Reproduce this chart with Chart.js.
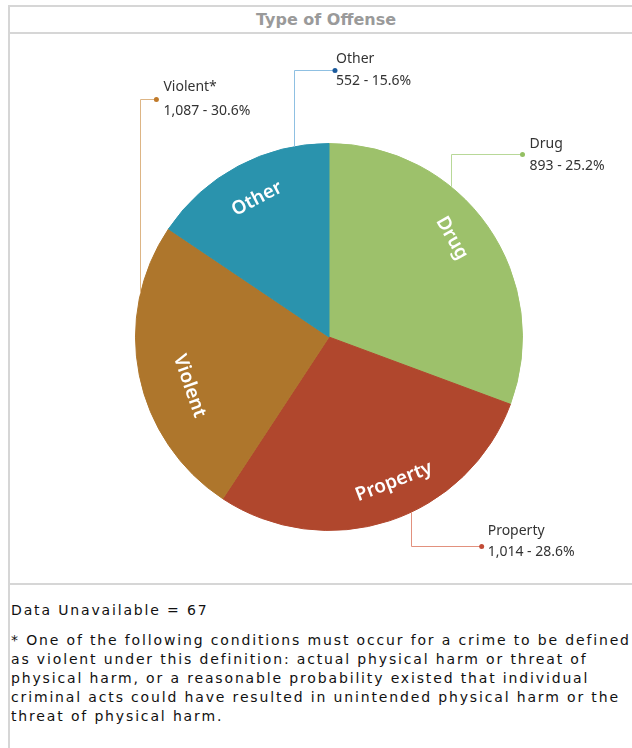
<!DOCTYPE html>
<html>
<head>
<meta charset="utf-8">
<script src="https://cdn.jsdelivr.net/npm/chart.js@4.4.1/dist/chart.umd.min.js"></script>
<style>
  html, body { margin: 0; padding: 0; background: #fff; overflow: hidden; }
  #box { position: absolute; left: 8px; top: 5px; width: 640px; height: 800px;
         border-left: 2px solid #d6d6d6; }
  #title { position: absolute; left: 0; top: 0; width: 632px; height: 25px;
           border-top: 2px solid #d6d6d6; border-bottom: 2px solid #d6d6d6;
           font: bold 16px "DejaVu Sans", Verdana, sans-serif; color: #9a9a9a;
           text-align: center; line-height: 26px; }
  #wrap { position: absolute; left: 0; top: 29px; width: 622px; height: 549px; }
  #sep { position: absolute; left: 0; top: 578px; width: 640px; border-top: 2px solid #d6d6d6; }
  #notes { position: absolute; left: 1px; top: 596px; font: 14px "DejaVu Sans", Verdana, sans-serif;
           color: #111; white-space: nowrap; line-height: 19px; letter-spacing: 1.85px; }
  #notes p { margin: 0 0 11px 0; }
</style>
</head>
<body>
<div id="box">
  <div id="title">Type of Offense</div>
  <div id="wrap"><canvas id="chart_offense" width="622" height="549"></canvas></div>
  <div id="sep"></div>
  <div id="notes">
    <p>Data Unavailable = 67</p>
    <p>* One of the following conditions must occur for a crime to be defined<br>as violent under this definition: actual physical harm or threat of<br>physical harm, or a reasonable probability existed that individual<br>criminal acts could have resulted in unintended physical harm or the<br>threat of physical harm.</p>
  </div>
</div>
<script>
// categories in drawing order (clockwise from 12 o'clock)
var categories = ['Drug', 'Property', 'Violent', 'Other'];
var calloutNames = ['Drug', 'Property', 'Violent*', 'Other'];
// counts and shares as printed in the callouts
var counts = [893, 1014, 1087, 552];
var percents = ['25.2%', '28.6%', '30.6%', '15.6%'];
// wedge sizes as drawn in the original graphic (Drug and Violent wedges are swapped there)
var wedgeValues = [1087, 1014, 893, 552];

var sliceColors = ['#9dc16b', '#b0472d', '#ae762c', '#2a93ad'];
var lineColors = ['#b8d898', '#e2917e', '#ddb585', '#8fc0e2'];
var dotColors = ['#94c063', '#c24b36', '#c07a2a', '#1b5a9c'];

// callout layout: anchor angle on the rim (deg clockwise from top), elbow y and dot x in radius units
var calloutAnchor = [39, 155, 283, 349.6];
var calloutElbowY = [-0.948, 1.082, -1.232, -1.381];
var calloutDotX = [1.0, 0.789, -0.892, 0.031];
var calloutTextDx = [7, 6, 7, 1];
var calloutLine1 = [-10, -15, -12, -11];
var calloutLine2 = [12, 6, 12, 11];

// wedge label placement: angle shift from mid-wedge, extra tilt (deg), radius share
var labelShift = [-4, -6, -8, 0.5];
var labelTilt = [9, 3, 0, 0];
var labelRadius = [0.815, 0.82, 0.765, 0.805];

function fmt(n) {
	return n.toString().replace(/\B(?=(\d{3})+(?!\d))/g, ',');
}

var sliceLabels = {
	id: 'sliceLabels',
	afterDatasetsDraw: function(chart) {
		var ctx = chart.ctx;
		var arcs = chart.getDatasetMeta(0).data;
		arcs.forEach(function(arc, i) {
			var p = arc.getProps(['x', 'y', 'startAngle', 'endAngle', 'outerRadius']);
			var cx = p.x, cy = p.y, r = p.outerRadius;

			// callout line + dot + text
			var a = calloutAnchor[i] * Math.PI / 180;
			var ax = cx + Math.sin(a) * r;
			var ay = cy - Math.cos(a) * r;
			var ey = cy + calloutElbowY[i] * r;
			var dx = cx + calloutDotX[i] * r;
			ctx.save();
			ctx.strokeStyle = lineColors[i];
			ctx.lineWidth = 1;
			ctx.beginPath();
			ctx.moveTo(Math.round(ax) + 0.5, ay);
			ctx.lineTo(Math.round(ax) + 0.5, Math.round(ey) + 0.5);
			ctx.lineTo(dx, Math.round(ey) + 0.5);
			ctx.stroke();
			ctx.fillStyle = dotColors[i];
			ctx.beginPath();
			ctx.arc(dx, Math.round(ey) + 0.5, 2.5, 0, Math.PI * 2);
			ctx.fill();
			ctx.fillStyle = '#333';
			ctx.font = '14px "Noto Sans", sans-serif';
			ctx.textAlign = 'left';
			ctx.textBaseline = 'middle';
			ctx.fillText(calloutNames[i], dx + calloutTextDx[i], ey + calloutLine1[i]);
			ctx.fillText(fmt(counts[i]) + ' - ' + percents[i], dx + calloutTextDx[i], ey + calloutLine2[i]);
			ctx.restore();

			// label inside the wedge, along the rim
			var mid = (p.startAngle + p.endAngle) / 2 + labelShift[i] * Math.PI / 180;
			var lr = r * labelRadius[i];
			var lx = cx + Math.cos(mid) * lr;
			var ly = cy + Math.sin(mid) * lr;
			var rot = mid + Math.PI / 2;
			while (rot > Math.PI) rot -= 2 * Math.PI;
			while (rot < -Math.PI) rot += 2 * Math.PI;
			if (rot > Math.PI / 2) rot -= Math.PI;
			if (rot < -Math.PI / 2) rot += Math.PI;
			rot += labelTilt[i] * Math.PI / 180;
			ctx.save();
			ctx.translate(lx, ly);
			ctx.rotate(rot);
			ctx.fillStyle = '#fff';
			ctx.font = '600 19px "Noto Sans", sans-serif';
			ctx.textAlign = 'center';
			ctx.textBaseline = 'middle';
			ctx.fillText(categories[i], 0, 0);
			ctx.restore();
		});
	}
};

var ctx = document.getElementById('chart_offense').getContext('2d');
var chart = new Chart(ctx, {
	type: 'pie',
	data: {
		labels: categories,
		datasets: [{
			data: wedgeValues,
			backgroundColor: sliceColors,
			borderColor: sliceColors,
			borderWidth: 1
		}]
	},
	options: {
		responsive: false,
		animation: false,
		layout: { padding: { top: 109, bottom: 52, left: 125, right: 109 } },
		plugins: {
			legend: { display: false },
			tooltip: { enabled: false }
		}
	},
	plugins: [sliceLabels]
});
</script>
</body>
</html>
